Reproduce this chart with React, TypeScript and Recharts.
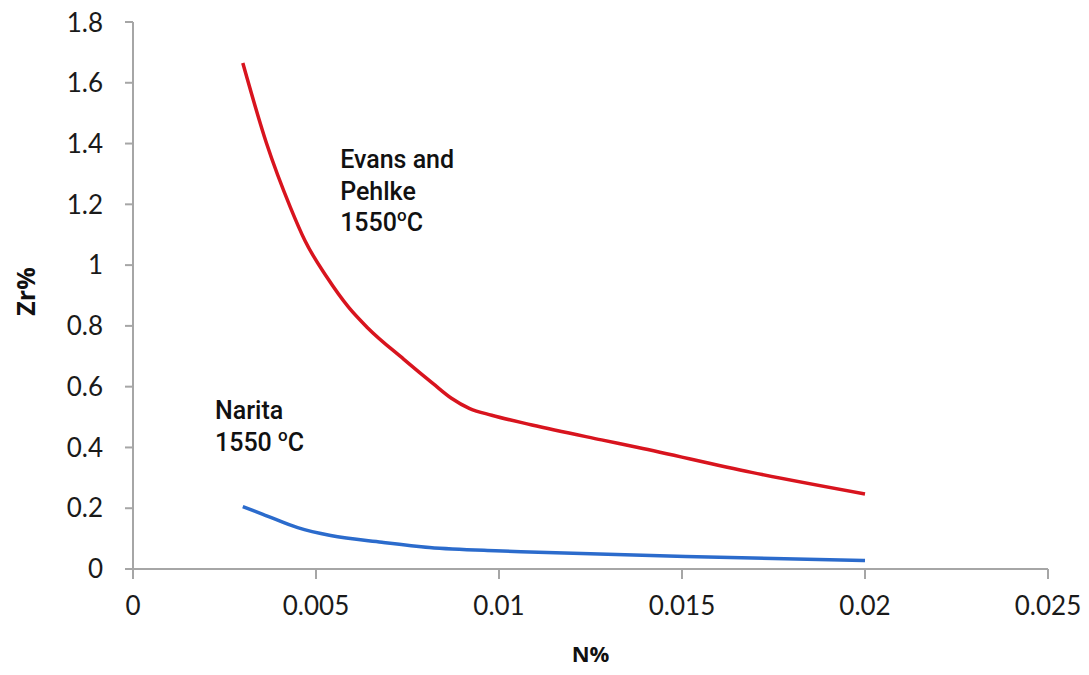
import React from 'react';
import { LineChart, Line, XAxis, YAxis, ReferenceDot } from 'recharts';

const evansN = [0.003, 0.00365, 0.0043, 0.0047, 0.0053, 0.0059, 0.0064, 0.0074, 0.0082, 0.0087, 0.0092, 0.0098, 0.0109, 0.0128, 0.0138, 0.0169, 0.02];
const evansZr = [1.665, 1.4, 1.19, 1.08, 0.96, 0.86, 0.795, 0.69, 0.61, 0.562, 0.528, 0.506, 0.474, 0.425, 0.4, 0.318, 0.247];

const naritaN = [0.003, 0.00355, 0.0045, 0.0054, 0.0068, 0.0081, 0.0099, 0.0106, 0.0151, 0.02];
const naritaZr = [0.205, 0.18, 0.136, 0.11, 0.088, 0.071, 0.06, 0.057, 0.041, 0.028];

const xTicks = [0, 0.005, 0.01, 0.015, 0.02, 0.025];
const yTicks = [0, 0.2, 0.4, 0.6, 0.8, 1, 1.2, 1.4, 1.6, 1.8];

const evansData = evansN.map((n, i) => ({ n, zr: evansZr[i] }));
const naritaData = naritaN.map((n, i) => ({ n, zr: naritaZr[i] }));

const tickFont = { fontFamily: 'Lato, "Open Sans", sans-serif', fontSize: 26, fill: '#1a1a1a' };
const annFont = 'Roboto, "Liberation Sans", sans-serif';

const AxisColor = '#a6a6a6';

function YLabel(props: any) {
  const vb = props.viewBox || {};
  const x = (vb.x ?? 0) + 17;
  const y = (vb.y ?? 0) + (vb.height ?? 0) / 2 - 4;
  return (
    <text
      x={x}
      y={y}
      transform={`rotate(-90, ${x}, ${y})`}
      textAnchor="middle"
      dominantBaseline="central"
      style={{ fontFamily: '"Open Sans", Lato, sans-serif', fontSize: 25, fontWeight: 700, fill: '#111' }}
    >
      Zr%
    </text>
  );
}

function XLabel(props: any) {
  const vb = props.viewBox || {};
  const x = (vb.x ?? 0) + (vb.width ?? 0) / 2;
  const y = 645;
  return (
    <text
      x={x}
      y={y}
      textAnchor="middle"
      dominantBaseline="central"
      style={{ fontFamily: '"Open Sans", Lato, sans-serif', fontSize: 22, fontWeight: 700, fill: '#111' }}
    >
      N%
    </text>
  );
}

function EvansText(props: any) {
  const { cx, cy } = props;
  const st = { fontFamily: annFont, fontSize: 25, fontWeight: 500, fill: '#111' };
  return (
    <g>
      <text x={cx} y={cy} style={st}>Evans and</text>
      <text x={cx} y={cy + 32} style={st}>Pehlke</text>
      <text x={cx} y={cy + 63} style={st}>
        1550<tspan dy={-10} style={{ fontSize: 17 }}>o</tspan><tspan dy={10}>C</tspan>
      </text>
    </g>
  );
}

function NaritaText(props: any) {
  const { cx, cy } = props;
  const st = { fontFamily: annFont, fontSize: 25, fontWeight: 500, fill: '#111' };
  return (
    <g>
      <text x={cx} y={cy} style={st}>Narita</text>
      <text x={cx} y={cy + 32} style={st}>
        1550 <tspan dy={-10} style={{ fontSize: 17 }}>o</tspan><tspan dy={10}>C</tspan>
      </text>
    </g>
  );
}

export default function App() {
  return (
    <div style={{ width: 1073, height: 659, background: '#fff' }}>
      <LineChart
        width={1073}
        height={659}
        margin={{ top: 14, right: 33, left: 0, bottom: 8 }}
        style={{ overflow: 'visible' }}
      >
        <XAxis
          type="number"
          dataKey="n"
          domain={[0, 0.025]}
          ticks={xTicks}
          tickFormatter={(v: number) => String(v)}
          height={90}
          tickSize={10}
          tickMargin={18}
          stroke={AxisColor}
          strokeWidth={2}
          tick={tickFont}
          tickLine={{ stroke: AxisColor, strokeWidth: 2 }}
          label={<XLabel />}
        />
        <YAxis
          type="number"
          dataKey="zr"
          domain={[0, 1.8]}
          ticks={yTicks}
          tickFormatter={(v: number) => String(v)}
          width={125}
          tickSize={8}
          tickMargin={22}
          stroke={AxisColor}
          strokeWidth={2}
          tick={tickFont}
          tickLine={{ stroke: AxisColor, strokeWidth: 2 }}
          label={<YLabel />}
        />
        <Line
          data={evansData}
          dataKey="zr"
          type="monotone"
          stroke="#d8141e"
          strokeWidth={3.5}
          dot={false}
          isAnimationActive={false}
        />
        <Line
          data={naritaData}
          dataKey="zr"
          type="monotone"
          stroke="#2b6bcc"
          strokeWidth={3.5}
          dot={false}
          isAnimationActive={false}
        />
        <ReferenceDot x={0.00566} y={1.32} r={0} shape={EvansText} ifOverflow="visible" />
        <ReferenceDot x={0.00224} y={0.494} r={0} shape={NaritaText} ifOverflow="visible" />
      </LineChart>
    </div>
  );
}
